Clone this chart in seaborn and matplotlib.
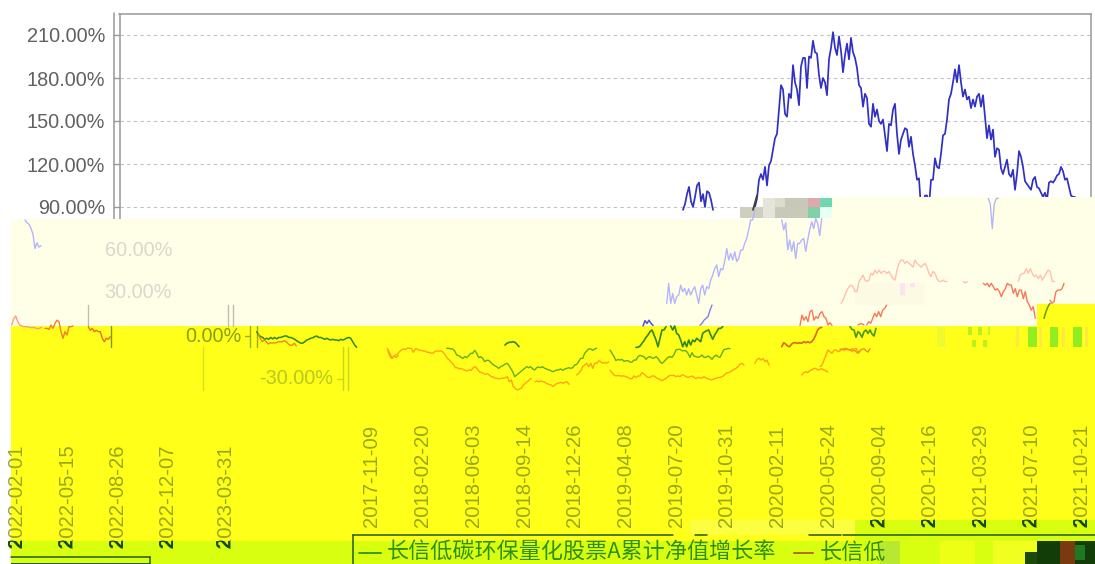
import matplotlib
matplotlib.use("Agg")
import matplotlib.pyplot as plt
import seaborn as sns
import numpy as np
import pandas as pd
from matplotlib.patches import Rectangle
from matplotlib.transforms import Affine2D, Bbox

# size of the picture in pixels, one sample of a curve is 2 pixels wide
W, H = 1095, 564
SAMPLE = 2

y_ticks = [210, 180, 150, 120, 90]
date_labels = ["2017-11-09", "2018-02-20", "2018-06-03", "2018-09-14", "2018-12-26",
               "2019-04-08", "2019-07-20", "2019-10-31", "2020-02-11", "2020-05-24",
               "2020-09-04", "2020-12-16", "2021-03-29", "2021-07-10", "2021-10-21"]
wrapped_labels = ["2022-02-01", "2022-05-15", "2022-08-26", "2022-12-07", "2023-03-31"]

# blue, upper part of the chart (percent)
blue_a = [88, 92, 99, 104, 94, 90, 97, 105, 107, 94, 99, 90, 101, 100, 95, 88]
blue_b = [90, 96, 109, 113, 109, 118, 105, 119, 122, 130, 138, 141, 158, 175, 172, 155, 153, 169, 166, 189,
          177, 172, 161, 188, 194, 194, 173, 195, 194, 206, 198, 197, 182, 173, 180, 177, 168, 193, 201, 212,
          201, 196, 209, 199, 184, 196, 204, 193, 208, 198, 194, 187, 175, 173, 160, 169, 166, 148, 146, 162,
          153, 158, 150, 148, 151, 140, 129, 148, 147, 158, 162, 141, 127, 137, 141, 145, 144, 132, 139, 127,
          119, 109, 110, 89, 88, 98, 98, 90, 109, 109, 124, 118, 117, 127, 140, 141, 151, 165, 169, 177,
          186, 177, 189, 177, 167, 172, 165, 167, 159, 165, 160, 167, 169, 160, 168, 153, 138, 147, 137, 144,
          125, 131, 130, 117, 113, 118, 123, 113, 111, 116, 102, 113, 129, 125, 118, 108, 106, 104, 102, 109,
          111, 104, 103, 100, 97, 100, 95, 107, 108, 107, 109, 112, 113, 118, 115, 109, 110, 104, 98, 97, 97]

# blue, displaced pieces
blue_c1 = [22.7, 36.7, 22.7, 29.7, 22.7, 27.4, 28.6, 35.5, 30.9, 33.2, 28.6, 33, 28.6, 32, 34.4, 28.6, 22.7, 33,
           35.5, 28.6, 34.4, 33, 39, 42.5, 47, 49.5, 41.3, 47, 46, 52, 61, 53, 57.6, 53, 58.8, 52, 54, 60, 60,
           64.6, 68, 74, 81, 81, 87.9]
blue_c2 = [81, 74, 79, 60, 67, 59, 65.8, 54, 64.6, 64.6, 67, 68, 59, 67, 74, 79.7, 75, 82, 78.6, 70, 82]
blue_c3 = [96, 92, 75, 92, 96, 96]
blue_c4 = [81, 79, 78, 75, 71, 61, 65, 62, 63]
blue_d1 = [7, 10.7, 8.8, 11, 8.8, 7.4]
blue_d2 = [7.4, 8.8, 11, 12.3, 13.5, 18, 21.6]
blue_dark = [88, 93, 98]

# red pieces
red_1 = [22.8, 25, 28.6, 32, 34.4, 35.6, 34.4, 31, 31, 38, 40, 42.5, 39, 38, 39, 43.7, 42.5, 46, 43.7, 46, 43.7,
         45, 45, 43.7, 45, 42.5, 40, 39, 46, 50.7, 53, 53, 50.7, 52, 50.7, 49.5, 48, 53, 50.7, 49.5, 48, 49.5,
         50.7, 48, 43.7, 41.4, 45, 43.7, 40, 38, 38, 39, 38, 38]
red_dot = [38, 37, 38]
red_2 = [36.7, 35.6, 36.7, 34.4, 36.7, 34.4, 32, 33, 31, 27.4, 31, 33, 36.7, 35.6, 35.6, 29.8, 33, 27.4, 32, 32,
         26, 31, 24, 21.6, 18, 20.5, 12.3]
red_3 = [38, 42.5, 43.7, 43.7, 47, 43.7, 47, 43.7, 41.4, 42.5, 40, 42.5, 39, 41.4, 43.7, 46, 45, 38, 38]
red_4 = [25, 22.8, 24, 31, 32, 32, 33, 36.7]
red_5 = [7.7, 10, 8.8, 12.3, 15.8, 13.5, 17, 13.5, 18, 19.3, 21.6]
red_6 = [7.4, 14.6, 11, 13.5, 10, 17, 18, 11, 13.5, 12.3, 15.8, 17, 13.5, 12.3, 7.7, 9.3, 7.4]
red_7 = [7.7, 8.5, 8.5, 7.7]
red_l1 = [7.7, 12, 14, 10, 7.7, 7, 6.5, 6.5, 6.5, 6, 5.8, 6, 5.5, 5, 5.5, 6]
red_l2 = [5.3, 5.3, 4.6, 7.7, 5.3, 8.8, 11, 10, 3, -1.6, 3, 0.7, 6.5, 6.5, 7]
red_l3 = [6.5, 4, 5.3, 3, 4, 3, 3, -1.6, -4, -1.6, -2.3, -0.5]

# green pieces
green_0 = [3, 0.7, -0.5, -1, -2.3, -1.6, -2.3, -1, -2, -1, -2, -1, -1, -0.5, 0, 0, -1, -1, -1.6, -2.3, -3.3, -4.2,
           -5, -5, -4, -2.8, -2.3, -1.6, -1.2, -0.5, 0, -1, -1, -1.6, -2.3, -1.6, -2.3, -2.8, -2.3, -2.8, -2.8,
           -3.3, -2.3, -2.8, -2.3, -1.4, -1, -1.6, -4, -6.3, -7.9]
green_1 = [-8.6, -8.6, -9, -9, -10.5, -13.3, -13.7, -14.7, -15.6, -14.4, -15.1, -13.7, -12.1, -12.1, -10, -12.1,
           -15.1, -14.4, -15.6, -17.9, -17, -17, -18.4, -19.8, -20.7, -21.4, -22.6, -21.4, -20.7, -19.8, -19,
           -20.2, -22.6, -24.9, -28.4, -27.2, -26, -24.9, -23.7, -22.6, -21.4, -22.1, -21.4, -23, -23.7, -22.1,
           -21.6, -22.1, -21.4, -22.6, -23, -23.7, -24, -24.9, -24.4, -23.7, -23.7, -23, -24, -23, -22.6, -22.1,
           -22.6, -22.1, -20.2, -19.8, -17.9, -15.6, -15.6, -12.1, -10.5, -9, -9, -10, -9, -8.6]
green_arch = [-6.3, -5.1, -4.4, -4.4, -4, -4.4, -5.8, -7.4]
green_2 = [-9.8, -12.1, -14.4, -17.2, -16.3, -16.8, -16.3, -17.7, -17.2, -17.2, -18.2, -18.2, -16.8, -16.8, -14.4,
           -13.5, -14, -14.4, -16.3, -14.9, -14.4, -15.4, -15.4, -14.4, -15.6, -17.9, -19.1, -17.9, -16.3, -14.9,
           -14.4, -14.9, -13, -9.8, -9.3, -9.3, -10.3, -10.3, -10.3, -12.1, -14.9, -11.6, -14, -14.4, -14.9,
           -14.4, -13.3, -14.9, -14.9, -14, -14.9, -16.3, -14.4, -13.3, -14.4, -14.9, -12.1, -9.3, -9.3, -8.6, -8.9]
green_3a = [-7.9, -7.9, -7, -5.1, -3.3, -0.9, 0.7, 3, 4.2, 0.7, -2.8, -7.5, -1.6, 4.2, 4.2, 6.5]
green_3b = [7, 4.2, 7, 1.8, 0.7, -2.8, -7.5, -4, -7.5, -2.8, -6.3, -2.8, -4, -1.6, -2.8, -4, 1.8, 3, 3.7, 4.2, 0.7,
            -2.3, 0.7, 3, 5.3, 5.3, 6.5]
green_4 = [6.5, 4.6, 4.2, -0.9, 3, 1.8, -0.9, 3, 4.2, 1.8, 4.2, 1.4, 0, 5.3]
green_5 = [12.3, 17, 20.5, 22.8]

# orange pieces
orange_0 = [0.7, -1.6, -4, -2.8, -4, -5.6, -4.7, -5, -4.7, -4.7, -4, -4, -4, -3.3, -4, -5.6, -6.5, -6.5, -5, -7]
orange_s = [-9.8, -12.6, -15.6, -14, -15, -13.5]
orange_1a = [-8.6, -13.3, -15.6, -14.4, -13.3, -12.8, -11, -9.8, -9, -9.5, -8.6, -8.6, -8.6, -11.4, -9, -9, -10, -10,
             -10.5, -10.5, -11.4, -11.4, -12, -11.9, -10.5, -10.5, -10.5, -10.5, -11.4, -13.3, -15.6, -16.7, -18.4,
             -19.8, -22.1, -22.1, -23, -22.6, -23.5, -24, -24.4, -23.5, -24, -22.1, -21.4, -23, -24.9, -25.4, -26,
             -26.8, -26.3, -27.2, -28.4, -28.6, -29.5, -29.5, -30, -29.5, -29.5, -29.1, -28.4, -31.9, -30.7, -35.4,
             -36.5, -37.7, -37, -36.5, -34.2, -33, -31.9, -30.7, -29.5]
orange_1b = [-31.9, -31.4, -31.9, -31.4, -31.9, -32.3, -33.3, -33.7, -34.2, -35.1, -34.2, -33, -32.8, -32.3, -33,
             -32.3, -31.9, -33.7]
orange_1c = [-27.2, -26, -24.4, -21.4, -20.2, -19, -21.4, -19, -22.6, -19, -19, -17.4, -17.9, -19, -18.4, -19, -17.9]
orange_2 = [-23.7, -25.6, -27.2, -27.9, -27.5, -27.9, -27.9, -27.9, -28.4, -28.9, -29.8, -29.8, -27.9, -28.9, -27.9,
            -27.9, -25.6, -26.5, -27.9, -28.9, -28.9, -27.9, -27.9, -28.9, -29.8, -30.3, -31.2, -30.3, -29.6, -28.4,
            -27.5, -27.5, -27.5, -28.4, -27.9, -28.4, -27, -27.5, -28.4, -28.9, -28.4, -27.9, -28.9, -29.8, -28.9,
            -29.3, -29.3, -28.4, -29.3, -29.8, -30.3, -30.7, -29.8, -29.6, -28.9, -28.9, -28.4, -27.5, -26.1, -25.6,
            -25.1, -24.2, -23.3, -22.6, -21.4, -19.6, -19.1, -20.3]
orange_2b = [-19.1, -16.3, -15.6, -16.8, -15.6, -17.9, -16.8, -20.3]
orange_3 = [-27.2, -25.6, -24.9, -25.6, -24.2, -23.7, -22.6, -22.6, -23.7, -23.3, -22.8, -23.7, -24.2, -25.1]
orange_4 = [-21.4, -20.3, -16.8, -13.3, -9.8, -11, -12.1, -9.8, -9.8, -11, -10.3, -9.3, -8.6, -8.6, -9.3, -9.8, -8.9,
            -9.3, -8.6, -11, -11]
orange_4b = [-9.3, -9.3, -9.8, -9.3, -9.3, -9.8, -10.5, -9.8, -10.9, -12.1, -10.2, -9.3, -8.9, -10.2, -11.2, -8.9]
orange_5 = [-7.5, -4.7, -5.6, -7, -7.5, -5.6, -4.7, -4.7, -5.1, -4.7, -5.1, -4, -4.7, -4, -4.7, -4, -2.3, 0.7, 4.2,
            5.6, 6]

legend_first = "长信低碳环保量化股票A累计净值增长率"
legend_second = "长信低"

sns.set_theme(style="white")
plt.rcParams["font.family"] = ["Liberation Sans", "DejaVu Sans"]

fig = plt.figure(figsize=(W / 100, H / 100), dpi=100, facecolor="white")
pixel = Affine2D().scale(1 / W, -1 / H).translate(0, 1) + fig.transFigure


def to_pct(py):
    # 0% sits on pixel row 336, 30% takes 43 pixels
    return (336 - py) * 30 / 43


# main axes: frame, grid and the part of the chart that is still intact
left, right, top, bottom = 119.5, 1091, 14, 545
ax = fig.add_axes([left / W, 1 - bottom / H, (right - left) / W, (bottom - top) / H], zorder=1)


def curve(target, values, px_start, color, lw=1.0, alpha=1.0):
    x0 = px_start / SAMPLE
    df = pd.DataFrame({"x": x0 + np.arange(len(values)), "y": values})
    sns.lineplot(data=df, x="x", y="y", ax=target, color=color, linewidth=lw, alpha=alpha,
                 errorbar=None, estimator=None)


curve(ax, blue_a, 683, "#3030c4", 1.25)
curve(ax, blue_b, 755, "#3030c4", 1.25)
ax.set_xlim(left / SAMPLE, right / SAMPLE)
ax.set_ylim(to_pct(bottom), to_pct(top))
ax.set_xlabel("")
ax.set_ylabel("")
ax.set_xticks([])
ax.set_yticks(y_ticks)
ax.set_yticklabels(["%.2f%%" % v for v in y_ticks], fontsize=14.3, color="#606060")
ax.tick_params(axis="y", length=5.4, width=1, color="#999999", pad=5, left=True)
ax.grid(axis="y", color="#c2c2c2", linewidth=0.8, linestyle=(0, (3, 3)))
for s in ax.spines.values():
    s.set_visible(True)
    s.set_color("#999999")
    s.set_linewidth(1.1)
fig.add_artist(plt.Line2D([114, 114], [13, 222], transform=pixel, color="#999999", linewidth=1.1, zorder=2))

# second axes over the whole picture, same scales, for the displaced rows
ov = fig.add_axes([0, 0, 1, 1], zorder=5)
ov.patch.set_alpha(0)
ov.axis("off")


def box(x0, y0, x1, y1, color, z=1, alpha=1.0):
    ov.add_patch(Rectangle((x0, y0), x1 - x0, y1 - y0, transform=pixel, facecolor=color,
                           edgecolor="none", zorder=z, alpha=alpha))


def seg(x0, y0, x1, y1, color, lw=1.0):
    ov.add_line(plt.Line2D([x0, x1], [y0, y1], transform=pixel, color=color, linewidth=lw, zorder=2))


CREAM, YELLOW, LIME = "#FFFFE8", "#FFFF1A", "#D9FF10"
box(11, 219, W, 326, CREAM)
box(832, 197, W, 219, CREAM)
box(0, 219, 11, H, "white")
box(11, 326, W, 541, YELLOW)
box(1037, 304, W, 326, YELLOW)
box(11, 541, W, H, LIME)
box(855, 520, W, 541, LIME)

# damaged blocks next to the 90% line
for b in [(740, 207, 763, 218, "#cfcfc0"), (763, 198, 775, 218, "#e4e4d8"), (775, 198, 785, 207, "#dcdccc"),
          (785, 198, 808, 207, "#c8c8b8"), (775, 207, 808, 218, "#c9c9b8"), (808, 198, 820, 207, "#e0a8a8"),
          (820, 198, 832, 207, "#70d8b0"), (808, 207, 820, 218, "#80d0a8"), (820, 207, 832, 218, "#e8fff4")]:
    box(*b, z=1.2)
# stripes and pale blocks in the yellow and cream rows
for b in [(1028, 327, 1037, 347, "#92ee20"), (1050, 327, 1058, 347, "#92ee20"), (1073, 327, 1082, 347, "#92ee20"),
          (1016, 327, 1019, 347, "#ffe840"), (1039, 327, 1042, 347, "#ffe840"), (1062, 327, 1065, 347, "#ffe840"),
          (1085, 327, 1088, 347, "#ffe840"), (968, 327, 972, 335, "#b8f020"), (978, 327, 982, 335, "#b8f020"),
          (988, 327, 990, 335, "#c8f420"), (972, 340, 976, 347, "#b8f020"), (983, 340, 987, 347, "#b8f020"),
          (937, 327, 945, 347, "#eefa30"), (855, 283, 925, 305, "#FCFAE2"), (900, 283, 905, 295, "#FFE2F0"),
          (910, 283, 915, 287, "#FFE2F0")]:
    box(*b, z=1.2)
# damaged end of the legend row
for b in [(690, 520, 855, 535, "#fbff40"), (880, 541, 900, 564, "#b8e830"), (940, 541, 975, 564, "#ecff14"),
          (993, 541, 1037, 564, "#f0ff20"), (1037, 541, W, 564, "#123c08"), (1025, 552, 1037, 564, "#1c4a0c"),
          (1060, 541, 1075, 564, "#7a3a10"), (1075, 545, 1085, 560, "#1e7a20")]:
    box(*b, z=1.2)

# displaced pieces of frame and ticks
for x, y0, y1, c in [(88, 305, 326, "#bdbdb0"), (228, 305, 326, "#bdbdb0"), (233, 305, 326, "#bdbdb0"),
                     (111, 326, 347, "#7c9a10"), (250, 326, 347, "#9aae10"), (257, 326, 347, "#9aae10"),
                     (203, 347, 390, "#d2e418"), (343, 347, 390, "#c4da18"), (348, 347, 390, "#c4da18")]:
    seg(x, y0, x, y1, c)
seg(245, 336, 250, 336, "#9aae10")
seg(337, 379, 343, 379, "#c4da18")

# row labels that moved with their rows
for label, px, py, c in [("60.00%", 172, 250, "#d8d8cc"), ("30.00%", 172, 293, "#d8d8cc"),
                         ("0.00%", 242, 336, "#86a010"), ("-30.00%", 333, 379, "#b4ca1c")]:
    ov.text(px, py, label, transform=pixel, ha="right", va="center", fontsize=14.3, color=c, zorder=3)


def date_text(label, px, py_bottom, band_top):
    # lower end of a label runs into the lime band, there it is much darker
    ov.text(px, py_bottom, label, transform=pixel, rotation=90, ha="center", va="bottom", fontsize=14.6,
            color="#98a814", zorder=3)
    t = ov.text(px, py_bottom, label, transform=pixel, rotation=90, ha="center", va="bottom", fontsize=14.6,
                color="#124a10", fontweight="bold", zorder=3.1)
    t.set_clip_box(Bbox([[px - 15, H - py_bottom - 3], [px + 15, H - band_top]]))
    t.set_clip_on(True)


for i, label in enumerate(date_labels):
    px = 372 + i * 50.7
    date_text(label, px, 527, 520 if px > 855 else 541)
for label, px in zip(wrapped_labels, [17, 67, 118, 168, 225]):
    date_text(label, px, 548, 541)

# legend box and its texts
for x0, x1 in [(353, 673), (695, 707), (809, 841), (843, W)]:
    seg(x0, 535, x1, 535, "#1e5a10", 1.1)
seg(353, 535, 353, H, "#1e5a10", 1.1)
seg(11, 557, 150, 557, "#1e5a10", 1.1)
seg(150, 557, 150, H, "#1e5a10", 1.1)
box(11, 563, 150, H, "#1e5a10", z=1.2)
cjk = ["Noto Sans CJK SC", "DejaVu Sans"]
seg(359, 553, 381, 553, "#3a9a10", 1.4)
ov.text(387, 553, legend_first, transform=pixel, va="center", fontsize=15.9, family=cjk, color="#2f8f10", zorder=3)
seg(794, 553, 813, 553, "#b07010", 1.4)
ov.text(820, 553, legend_second, transform=pixel, va="center", fontsize=15.9, family=cjk, color="#2f8f10", zorder=3)

# curves in the displaced rows
FAINT_BLUE, MID_BLUE, FAINT_RED, RED = "#b4b4ff", "#5050d0", "#ffc0b0", "#f87858"
GREEN, DARK_GREEN, ORANGE = "#62b010", "#2f8a10", "#ffa414"
for values, px, color, lw in [
    (blue_c1, 666.7, FAINT_BLUE, 1.0), (blue_c2, 781.7, FAINT_BLUE, 1.0), (blue_c3, 988.3, FAINT_BLUE, 1.0),
    (blue_c4, 25, FAINT_BLUE, 1.0), (blue_d1, 643, MID_BLUE, 1.1), (blue_d2, 700, "#8080e0", 1.0),
    (blue_dark, 753, "#404030", 1.3),
    (red_1, 841, FAINT_RED, 1.0), (red_dot, 963.3, FAINT_RED, 1.0), (red_2, 983.3, RED, 1.0),
    (red_3, 1018.3, FAINT_RED, 1.0), (red_4, 1050, RED, 1.0), (red_5, 866.7, RED, 1.0), (red_6, 800, RED, 1.0),
    (red_7, 858, RED, 1.0), (red_l1, 11.7, "#ff9c80", 1.0), (red_l2, 45, "#f08030", 1.0), (red_l3, 88.3, "#e87020", 1.0),
    (green_0, 256.7, DARK_GREEN, 1.1), (green_1, 446.7, GREEN, 1.0), (green_arch, 505, DARK_GREEN, 1.2),
    (green_2, 610, GREEN, 1.0), (green_3a, 636, DARK_GREEN, 1.2), (green_3b, 670.7, DARK_GREEN, 1.2),
    (green_4, 850, "#4a9a10", 1.2), (green_5, 1044, "#6a9a10", 1.1),
    (orange_0, 258.3, "#f08a14", 1.0), (orange_s, 388.3, ORANGE, 1.0), (orange_1a, 387.3, ORANGE, 1.0),
    (orange_1b, 535, ORANGE, 1.0), (orange_1c, 576.7, ORANGE, 1.0), (orange_2, 610, ORANGE, 1.0),
    (orange_2b, 755, ORANGE, 1.0), (orange_3, 801.7, ORANGE, 1.0), (orange_4, 820, ORANGE, 1.0),
    (orange_4b, 840, "#f09014", 1.0), (orange_5, 781.7, "#d86a10", 1.2),
]:
    curve(ov, values, px, color, lw)

ov.set_xlim(0, W / SAMPLE)
ov.set_ylim(to_pct(H), to_pct(0))

fig.savefig("out.png", dpi=100)
